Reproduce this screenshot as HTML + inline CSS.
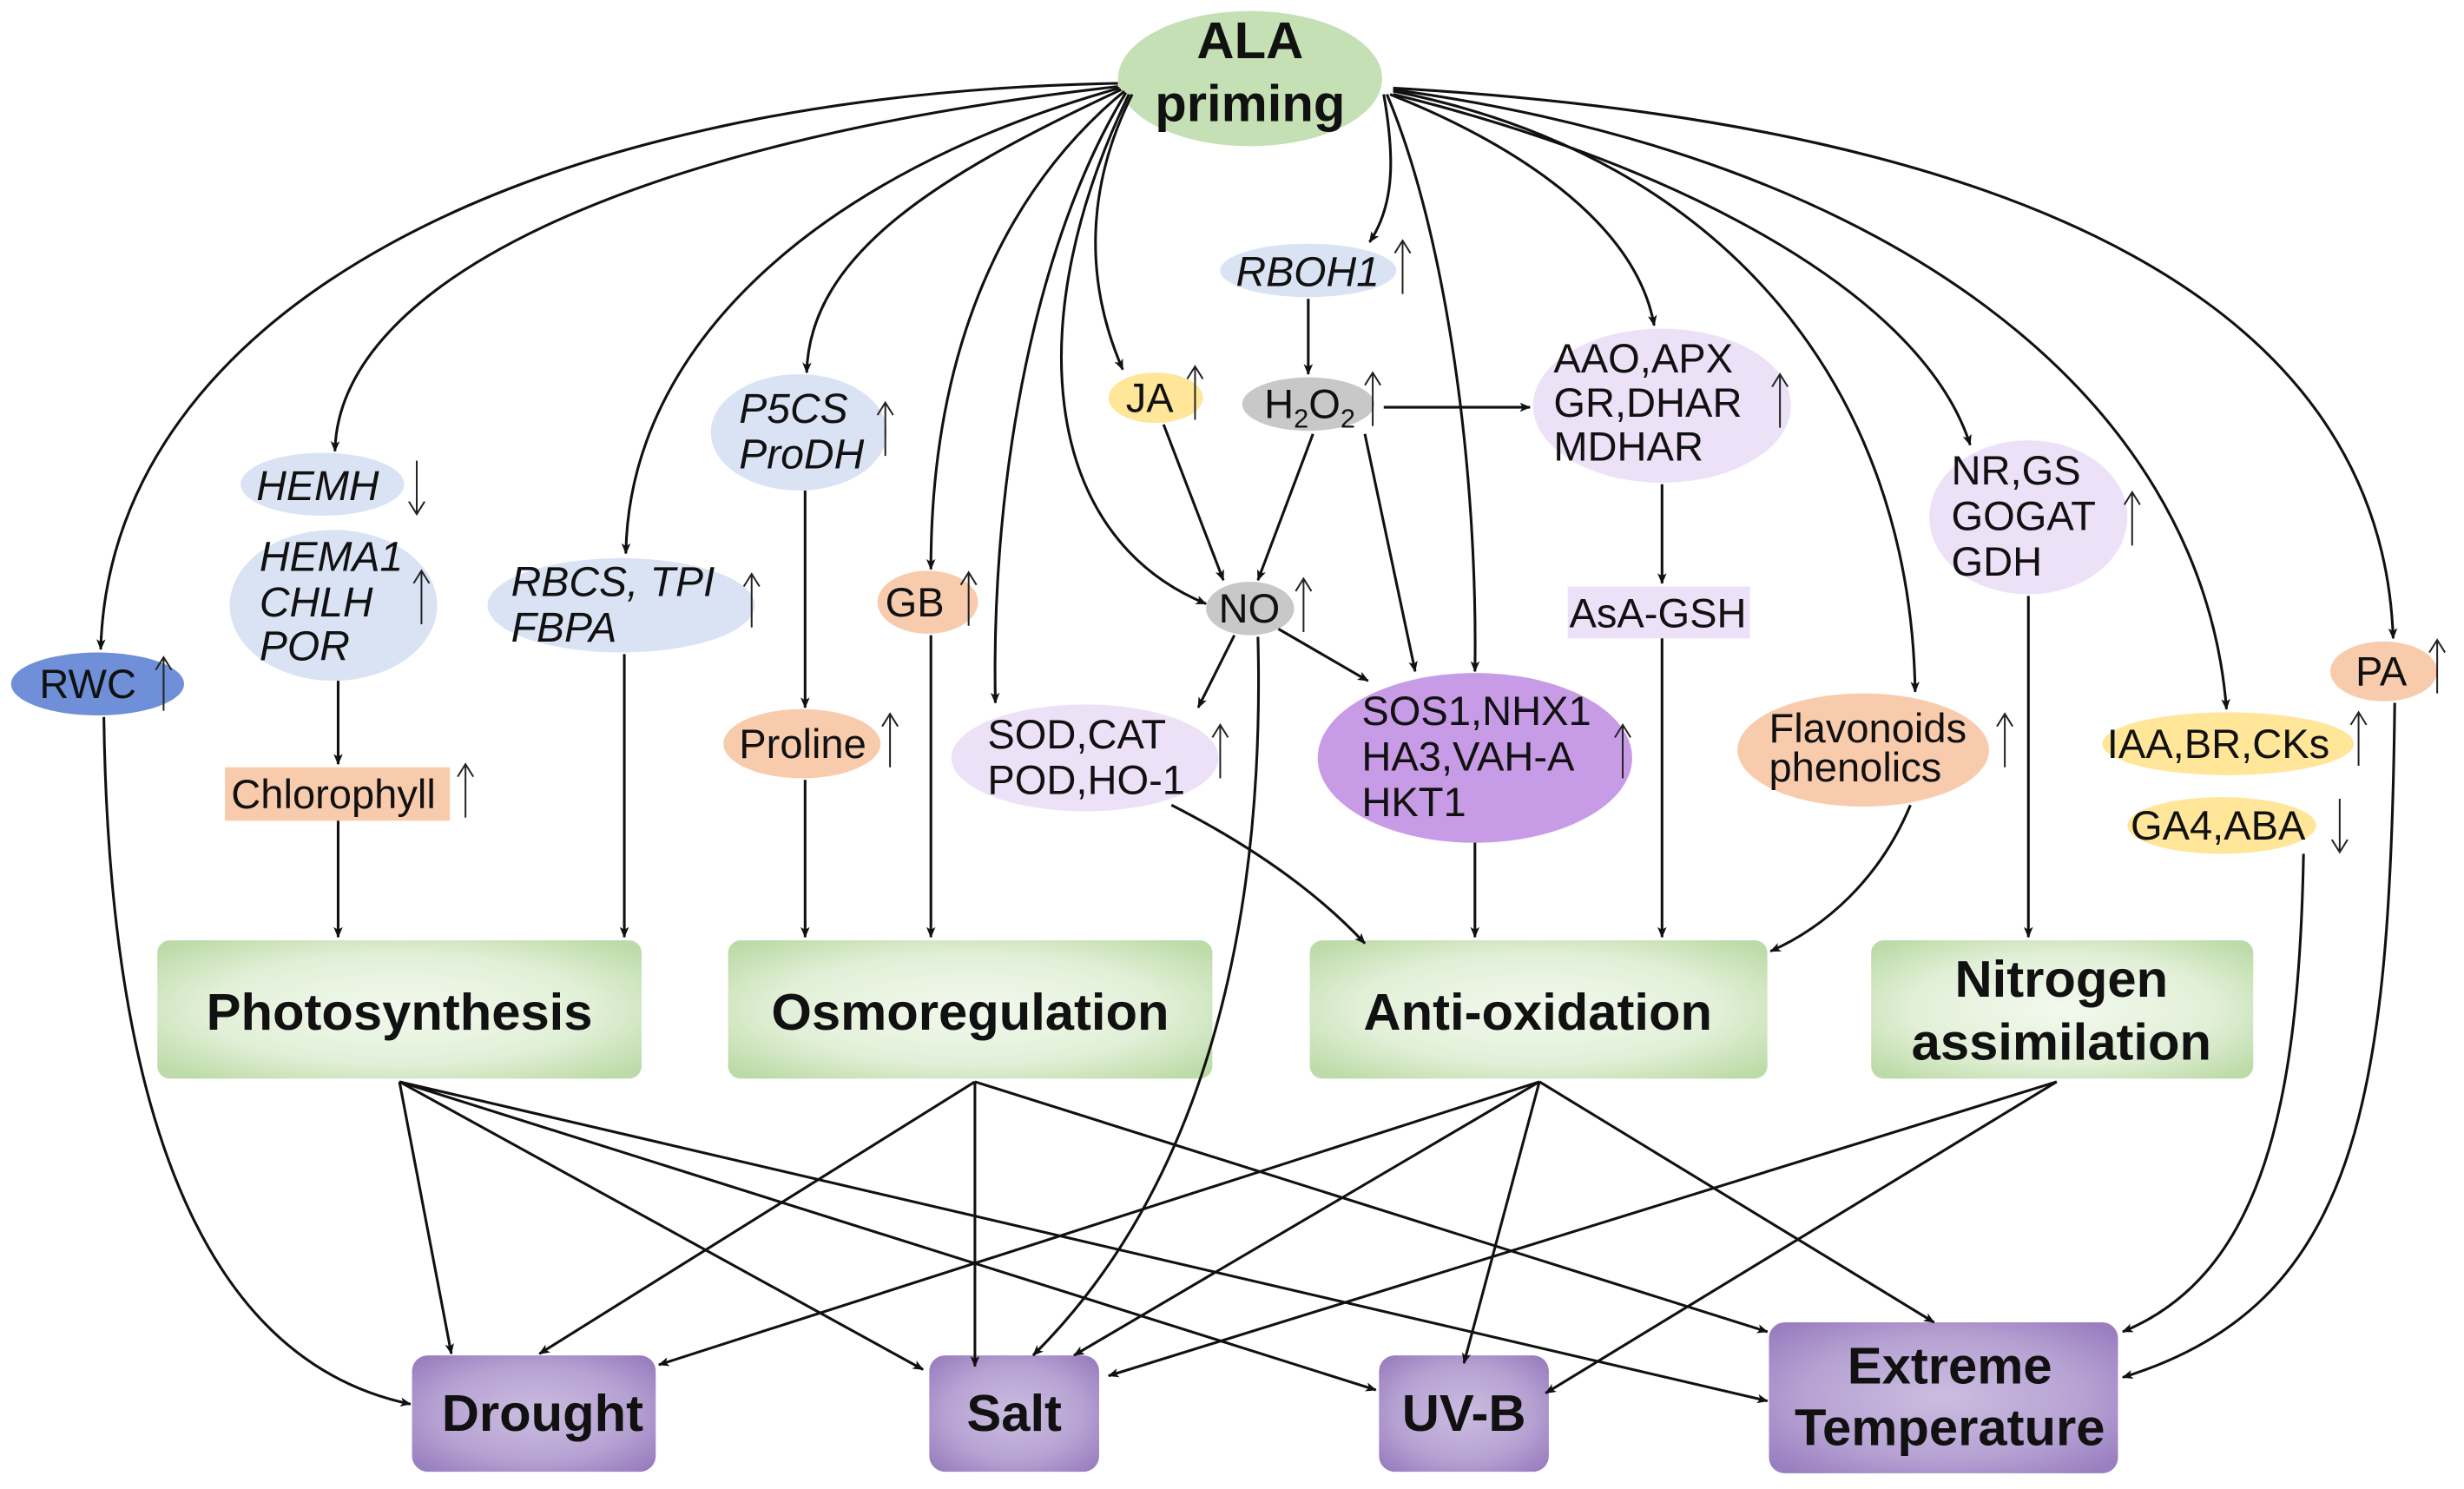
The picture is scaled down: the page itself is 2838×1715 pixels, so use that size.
<!DOCTYPE html>
<html><head><meta charset="utf-8">
<style>
html,body{margin:0;padding:0;background:#fff;}
svg{display:block;}
text{font-family:"Liberation Sans",Arial,sans-serif;fill:#111;}
.n{font-size:26px;}
.i{font-size:26.5px;font-style:italic;}
.b{font-size:33px;font-weight:bold;}
.l{fill:none;stroke:#111;stroke-width:1.7;}
.u{fill:none;stroke:#222;stroke-width:1.1;}
</style></head>
<body>
<svg width="2838" height="1715" viewBox="0 0 1567 947" xmlns="http://www.w3.org/2000/svg">
<defs>
<marker id="a" viewBox="0 0 12 10" refX="11" refY="5" markerWidth="7" markerHeight="6" orient="auto" markerUnits="userSpaceOnUse">
<path d="M0,0 L12,5 L0,10 L3,5 z" fill="#111"/></marker>
<radialGradient id="g" cx="50%" cy="50%" r="65%"><stop offset="0" stop-color="#f3f9ee"/><stop offset="0.6" stop-color="#e2f0d8"/><stop offset="1" stop-color="#bddba8"/></radialGradient>
<radialGradient id="p" cx="50%" cy="50%" r="65%"><stop offset="0" stop-color="#cbbde0"/><stop offset="0.6" stop-color="#b7a3d3"/><stop offset="1" stop-color="#9a7fc0"/></radialGradient>
<symbol id="up" overflow="visible"><path class="u" d="M0,17 L0,-17 M-5,-9 L0,-17 L5,-9"/></symbol>
<symbol id="dn" overflow="visible"><path class="u" d="M0,-17 L0,17 M-5,9 L0,17 L5,9"/></symbol>
</defs>

<!-- ALA -->
<ellipse cx="795" cy="50" rx="84" ry="43" fill="#c5e0b4"/>
<text x="795" y="37" class="b" text-anchor="middle">ALA</text>
<text x="795" y="77" class="b" text-anchor="middle">priming</text>

<!-- nodes -->
<ellipse cx="62" cy="435" rx="55" ry="20" fill="#6f8fd8"/>
<text x="25" y="444" class="n">RWC</text><use href="#up" x="104" y="435"/>

<ellipse cx="205" cy="308" rx="52" ry="20" fill="#dae3f3"/>
<text x="163" y="318" class="i">HEMH</text><use href="#dn" x="265" y="310"/>
<ellipse cx="212" cy="385" rx="66" ry="48" fill="#dae3f3"/>
<text x="165" y="363" class="i">HEMA1</text>
<text x="165" y="392" class="i">CHLH</text>
<text x="165" y="420" class="i">POR</text>
<use href="#up" x="268" y="380"/>
<rect x="143" y="488" width="143" height="34" fill="#f8cbad"/>
<text x="147" y="514" class="n">Chlorophyll</text><use href="#up" x="296" y="503"/>

<ellipse cx="395" cy="385" rx="85" ry="30" fill="#dae3f3"/>
<text x="325" y="379" class="i">RBCS, TPI</text>
<text x="325" y="408" class="i">FBPA</text>
<use href="#up" x="478" y="382"/>

<ellipse cx="508" cy="275" rx="56" ry="37" fill="#dae3f3"/>
<text x="470" y="269" class="i">P5CS</text>
<text x="470" y="298" class="i">ProDH</text>
<use href="#up" x="563" y="273"/>

<ellipse cx="510" cy="473" rx="50" ry="22" fill="#f8cbad"/>
<text x="470" y="482" class="n">Proline</text><use href="#up" x="566" y="471"/>

<ellipse cx="590" cy="383" rx="32" ry="20" fill="#f8cbad"/>
<text x="563" y="392" class="n">GB</text><use href="#up" x="616" y="381"/>

<ellipse cx="735" cy="253" rx="30" ry="16" fill="#ffe699"/>
<text x="716" y="262" class="n">JA</text><use href="#up" x="760" y="250"/>

<ellipse cx="832" cy="172" rx="56" ry="17" fill="#dae3f3"/>
<text x="786" y="182" class="i">RBOH1</text><use href="#up" x="892" y="170"/>

<ellipse cx="832" cy="257" rx="42" ry="17" fill="#c8c8c8"/>
<text x="804" y="266" class="n">H<tspan font-size="17" dy="6">2</tspan><tspan dy="-6">O</tspan><tspan font-size="17" dy="6">2</tspan></text>
<use href="#up" x="873" y="254"/>

<ellipse cx="795" cy="387" rx="28" ry="17" fill="#c8c8c8"/>
<text x="775" y="396" class="n">NO</text><use href="#up" x="829" y="385"/>

<ellipse cx="690" cy="482" rx="85" ry="34" fill="#ede1f7"/>
<text x="628" y="476" class="n">SOD,CAT</text>
<text x="628" y="505" class="n">POD,HO-1</text>
<use href="#up" x="776" y="478"/>

<ellipse cx="938" cy="482" rx="100" ry="54" fill="#c89be6"/>
<text x="866" y="461" class="n">SOS1,NHX1</text>
<text x="866" y="490" class="n">HA3,VAH-A</text>
<text x="866" y="519" class="n">HKT1</text>
<use href="#up" x="1032" y="478"/>

<ellipse cx="1057" cy="258" rx="82" ry="49" fill="#ede1f7"/>
<text x="988" y="237" class="n">AAO,APX</text>
<text x="988" y="265" class="n">GR,DHAR</text>
<text x="988" y="293" class="n">MDHAR</text>
<use href="#up" x="1132" y="255"/>

<rect x="997" y="373" width="116" height="33" fill="#ede1f7"/>
<text x="998" y="399" class="n">AsA-GSH</text>

<ellipse cx="1290" cy="329" rx="63" ry="49" fill="#ede1f7"/>
<text x="1241" y="308" class="n">NR,GS</text>
<text x="1241" y="337" class="n">GOGAT</text>
<text x="1241" y="366" class="n">GDH</text>
<use href="#up" x="1356" y="330"/>

<ellipse cx="1185" cy="477" rx="80" ry="36" fill="#f8cbad"/>
<text x="1125" y="472" class="n">Flavonoids</text>
<text x="1125" y="497" class="n">phenolics</text>
<use href="#up" x="1275" y="471"/>

<ellipse cx="1516" cy="427" rx="34" ry="19" fill="#f8cbad"/>
<text x="1498" y="436" class="n">PA</text><use href="#up" x="1550" y="424"/>

<ellipse cx="1417" cy="473" rx="80" ry="20" fill="#ffe699"/>
<text x="1340" y="482" class="n">IAA,BR,CKs</text><use href="#up" x="1500" y="470"/>

<ellipse cx="1413" cy="525" rx="60" ry="18" fill="#ffe699"/>
<text x="1355" y="534" class="n">GA4,ABA</text><use href="#dn" x="1488" y="525"/>

<!-- mid boxes -->
<rect x="100" y="598" width="308" height="88" rx="8" fill="url(#g)"/>
<text x="254" y="655" class="b" text-anchor="middle">Photosynthesis</text>
<rect x="463" y="598" width="308" height="88" rx="8" fill="url(#g)"/>
<text x="617" y="655" class="b" text-anchor="middle">Osmoregulation</text>
<rect x="833" y="598" width="291" height="88" rx="8" fill="url(#g)"/>
<text x="978" y="655" class="b" text-anchor="middle">Anti-oxidation</text>
<rect x="1190" y="598" width="243" height="88" rx="8" fill="url(#g)"/>
<text x="1311" y="634" class="b" text-anchor="middle">Nitrogen</text>
<text x="1311" y="674" class="b" text-anchor="middle">assimilation</text>

<!-- bottom boxes -->
<rect x="262" y="862" width="155" height="74" rx="10" fill="url(#p)"/>
<text x="345" y="910" class="b" text-anchor="middle">Drought</text>
<rect x="591" y="862" width="108" height="74" rx="10" fill="url(#p)"/>
<text x="645" y="910" class="b" text-anchor="middle">Salt</text>
<rect x="877" y="862" width="108" height="74" rx="10" fill="url(#p)"/>
<text x="931" y="910" class="b" text-anchor="middle">UV-B</text>
<rect x="1125" y="841" width="222" height="96" rx="10" fill="url(#p)"/>
<text x="1240" y="880" class="b" text-anchor="middle">Extreme</text>
<text x="1240" y="919" class="b" text-anchor="middle">Temperature</text>

<!-- arrows from ALA -->
<g class="l" marker-end="url(#a)">
<path d="M711,53 C330,60 70,200 64,413"/>
<path d="M711,55 C400,90 215,180 213,287"/>
<path d="M712,56 C520,110 400,220 398,352"/>
<path d="M713,57 C600,110 515,160 513,237"/>
<path d="M715,58 C640,120 592,220 592,362"/>
<path d="M716,59 C660,150 630,300 633,447"/>
<path d="M718,60 C650,200 660,340 767,384"/>
<path d="M720,60 C690,120 690,180 714,235"/>
<path d="M880,60 C887,100 887,130 871,154"/>
<path d="M882,60 C920,150 940,300 938,427"/>
<path d="M884,60 C960,90 1040,140 1052,207"/>
<path d="M886,60 C1050,100 1220,180 1253,283"/>
<path d="M886,58 C1100,100 1215,250 1218,440"/>
<path d="M886,57 C1200,100 1400,250 1416,451"/>
<path d="M886,56 C1300,80 1515,200 1522,406"/>

<!-- secondary -->
<path d="M832,190 L832,238"/>
<path d="M880,259 L973,259"/>
<path d="M835,276 L800,369"/>
<path d="M868,276 L900,427"/>
<path d="M740,270 L778,369"/>
<path d="M785,404 L762,450"/>
<path d="M813,400 L870,433"/>
<path d="M800,405 C805,600 760,760 657,862"/>
<path d="M1057,308 L1057,371"/>
<path d="M1057,406 L1057,596"/>
<path d="M745,512 C800,540 840,570 868,600"/>
<path d="M938,536 L938,596"/>
<path d="M1215,512 C1195,560 1160,590 1126,605"/>
<path d="M1290,379 L1290,596"/>
<path d="M215,433 L215,486"/>
<path d="M215,522 L215,596"/>
<path d="M397,416 L397,596"/>
<path d="M512,312 L512,450"/>
<path d="M512,496 L512,596"/>
<path d="M592,404 L592,596"/>
<path d="M66,456 C70,750 150,870 261,893"/>
<path d="M1523,447 C1520,700 1500,830 1350,876"/>
<path d="M1465,543 C1462,700 1440,810 1350,847"/>

<!-- to stresses -->
<path d="M254,688 L287,861"/>
<path d="M254,688 L587,871"/>
<path d="M254,688 L875,884"/>
<path d="M254,688 L1124,891"/>
<path d="M620,688 L343,861"/>
<path d="M620,688 L620,869"/>
<path d="M620,688 L1124,847"/>
<path d="M979,688 L419,868"/>
<path d="M979,688 L683,862"/>
<path d="M979,688 L931,867"/>
<path d="M979,688 L1230,841"/>
<path d="M1308,688 L705,875"/>
<path d="M1308,688 L983,886"/>
</g>
</svg>
</body></html>
